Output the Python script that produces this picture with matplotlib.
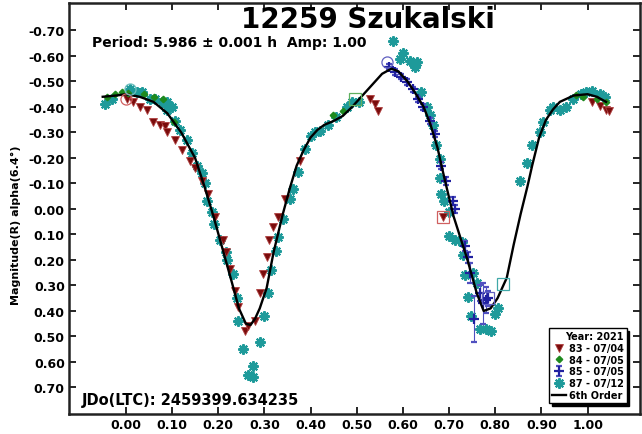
import numpy as np
import matplotlib
matplotlib.use("Agg")
import matplotlib.pyplot as plt

plt.rcParams['font.family'] = ['DejaVu Sans']
plt.rcParams['font.weight'] = 'bold'

# session 83 - 07/04
ph83 = [0.002, 0.015, 0.03, 0.045, 0.058, 0.074, 0.084, 0.089, 0.106, 0.121,
        0.139, 0.149, 0.164, 0.178, 0.193, 0.21, 0.218, 0.225, 0.236, 0.243,
        0.258, 0.265, 0.28, 0.29, 0.297, 0.305, 0.31, 0.318, 0.33, 0.345,
        0.377, 0.528, 0.539, 0.546, 0.686, 1.01, 1.026, 1.04, 1.047]
mag83 = [-0.43, -0.42, -0.40, -0.39, -0.34, -0.33, -0.325, -0.30, -0.27, -0.23,
         -0.19, -0.16, -0.11, -0.06, 0.03, 0.12, 0.17, 0.235, 0.32, 0.385,
         0.48, 0.46, 0.44, 0.33, 0.255, 0.19, 0.12, 0.07, 0.03, -0.04,
         -0.19, -0.43, -0.41, -0.385, 0.03, -0.42, -0.405, -0.39, -0.385]

# session 84 - 07/05
ph84 = [-0.04, -0.024, -0.009, 0.005, 0.04, 0.06, 0.08, 0.105, 0.448, 0.47,
        0.976, 0.99, 1.02, 1.04]
mag84 = [-0.44, -0.45, -0.46, -0.455, -0.45, -0.44, -0.43, -0.34, -0.37, -0.385,
         -0.445, -0.44, -0.43, -0.42]

# session 85 - 07/05
ph85 = [0.571, 0.582, 0.597, 0.608, 0.621, 0.632, 0.643, 0.658, 0.669, 0.683,
        0.694, 0.708, 0.712, 0.734, 0.74, 0.745, 0.753, 0.766, 0.773, 0.78, 0.784]
mag85 = [-0.557, -0.537, -0.518, -0.498, -0.47, -0.43, -0.40, -0.345, -0.294, -0.17,
         -0.11, -0.03, 0.0, 0.145, 0.19, 0.25, 0.43, 0.33, 0.37, 0.357, 0.35]
err85 = [0.01, 0.01, 0.01, 0.01, 0.01, 0.01, 0.01, 0.01, 0.01, 0.015,
         0.015, 0.015, 0.015, 0.02, 0.02, 0.04, 0.09, 0.03, 0.08, 0.05, 0.03]

# session 87 - 07/12
ph87 = [-0.045, -0.03, 0.009, 0.024, 0.035, 0.052, 0.063, 0.078, 0.089, 0.10,
        0.09, 0.106, 0.117, 0.132, 0.143, 0.154, 0.165, 0.171, 0.175, 0.186,
        0.19, 0.203, 0.218, 0.22, 0.232, 0.24, 0.243, 0.254, 0.265, 0.275,
        0.275, 0.29, 0.30, 0.308, 0.315, 0.326, 0.33, 0.34, 0.355, 0.362,
        0.373, 0.387, 0.40, 0.41, 0.42, 0.437, 0.455, 0.478, 0.49, 0.506,
        0.578, 0.593, 0.60, 0.615, 0.626, 0.63, 0.64, 0.652, 0.658, 0.665,
        0.672, 0.68, 0.68, 0.683, 0.69, 0.70, 0.70, 0.712, 0.727, 0.73,
        0.734, 0.751, 0.76, 0.74, 0.748, 0.766, 0.78, 0.79, 0.80, 0.805,
        0.853, 0.868, 0.88, 0.896, 0.903, 0.918, 0.925, 0.94, 0.954, 0.968,
        0.985, 0.997, 1.01, 1.026, 1.037]
mag87 = [-0.41, -0.43, -0.47, -0.46, -0.46, -0.43, -0.43, -0.42, -0.42, -0.40,
         -0.39, -0.345, -0.31, -0.27, -0.22, -0.17, -0.14, -0.10, -0.03, 0.01,
         0.06, 0.12, 0.17, 0.20, 0.255, 0.35, 0.44, 0.55, 0.65, 0.66,
         0.615, 0.52, 0.42, 0.33, 0.24, 0.165, 0.11, 0.04, -0.04, -0.08,
         -0.145, -0.235, -0.287, -0.30, -0.305, -0.33, -0.36, -0.40, -0.42, -0.42,
         -0.66, -0.59, -0.61, -0.58, -0.557, -0.575, -0.46, -0.40, -0.37, -0.33,
         -0.25, -0.196, -0.12, -0.06, -0.03, 0.01, 0.105, 0.12, 0.13, 0.18,
         0.26, 0.25, 0.29, 0.345, 0.42, 0.47, 0.47, 0.48, 0.41, 0.39,
         -0.11, -0.18, -0.25, -0.30, -0.34, -0.39, -0.40, -0.39, -0.40, -0.43,
         -0.45, -0.46, -0.463, -0.45, -0.44]

# 6th order fit
fit_ph = [-0.05, -0.02, 0.00, 0.03, 0.06, 0.09, 0.12, 0.15, 0.17, 0.19,
          0.21, 0.23, 0.245, 0.26, 0.27, 0.28, 0.29, 0.305, 0.32, 0.34,
          0.355, 0.37, 0.385, 0.40, 0.415, 0.43, 0.45, 0.47, 0.49, 0.51,
          0.535, 0.555, 0.575, 0.59, 0.61, 0.625, 0.645, 0.66, 0.675, 0.69,
          0.71, 0.74, 0.76, 0.775, 0.79, 0.805, 0.825, 0.84, 0.855, 0.87,
          0.88, 0.895, 0.91, 0.925, 0.94, 0.97, 1.00, 1.02, 1.04]
fit_mag = [-0.44, -0.445, -0.45, -0.44, -0.42, -0.375, -0.30, -0.20, -0.09, 0.03,
           0.16, 0.29, 0.39, 0.45, 0.455, 0.43, 0.39, 0.31, 0.17, 0.02,
           -0.08, -0.17, -0.23, -0.28, -0.31, -0.33, -0.345, -0.365, -0.40, -0.44,
           -0.49, -0.53, -0.55, -0.54, -0.50, -0.46, -0.40, -0.33, -0.24, -0.12,
           0.03, 0.20, 0.33, 0.40, 0.39, 0.35, 0.27, 0.14, 0.02, -0.09,
           -0.17, -0.28, -0.35, -0.39, -0.42, -0.445, -0.45, -0.44, -0.42]

# first-point markers of each session
open_circ_ph = [0.0, 0.009, 0.565]
open_circ_mag = [-0.43, -0.47, -0.575]
open_circ_col = ['#d06060', '#70c0c0', '#6060c0']
open_sq_ph = [0.496, 0.686, 0.784, 0.816]
open_sq_mag = [-0.43, 0.03, 0.35, 0.295]
open_sq_col = ['#60b060', '#d06060', '#6060c0', '#40a8a8']

xticks = [0.0, 0.1, 0.2, 0.3, 0.4, 0.5, 0.6, 0.7, 0.8, 0.9, 1.0]
yticks = [-0.7, -0.6, -0.5, -0.4, -0.3, -0.2, -0.1, 0.0, 0.1, 0.2, 0.3, 0.4, 0.5, 0.6, 0.7]

red = '#7a0c0c'
green = '#1e8a1e'
blue = '#2020a0'
teal = '#1e9a9a'

fig = plt.figure(figsize=(6.42, 4.35), dpi=100)
ax = fig.add_axes([0.1075, 0.046, 0.889, 0.945])

ax.plot(ph87, mag87, ls='none', marker=(8, 2, 0), ms=7.5, mew=1.5, color=teal,
        label='87 - 07/12', zorder=2)
ax.plot(ph83, mag83, ls='none', marker='v', ms=5.5, color=red, mec='#b04040',
        mew=0.6, label='83 - 07/04', zorder=3)
ax.plot(ph84, mag84, ls='none', marker='D', ms=3.3, color=green, mec=green,
        label='84 - 07/05', zorder=3)
ax.errorbar(ph85, mag85, yerr=err85, fmt='+', ms=7, mew=1.6, color=blue,
            ecolor='#5050c0', elinewidth=0.8, capsize=2, label='85 - 07/05', zorder=4)
ax.plot(fit_ph, fit_mag, color='black', lw=1.7, label='6th Order', zorder=5)

for p, m, c in zip(open_circ_ph, open_circ_mag, open_circ_col):
    ax.plot(p, m, ls='none', marker='o', ms=8, mfc='none', mec=c, mew=0.9, zorder=6)
for p, m, c in zip(open_sq_ph, open_sq_mag, open_sq_col):
    ax.plot(p, m, ls='none', marker='s', ms=8, mfc='none', mec=c, mew=0.9, zorder=6)

ax.set_xlim(-0.123, 1.113)
ax.set_ylim(0.804, -0.808)
ax.set_xticks(xticks)
ax.set_xticklabels(['%.2f' % v for v in xticks])
ax.set_yticks(yticks)
ax.set_yticklabels(['%.2f' % v for v in yticks])
ax.tick_params(direction='in', length=5, width=1.2, labelsize=9, pad=3,
               top=True, right=True)
for lab in ax.get_xticklabels() + ax.get_yticklabels():
    lab.set_fontweight('bold')
for s in ax.spines.values():
    s.set_linewidth(1.8)
    s.set_color('#222222')

fig.text(0.025, 0.483, 'Magnitude(R) alpha(6.4\u00b0)', rotation=90,
         ha='center', va='center', fontsize=8, fontweight='bold')
fig.text(0.573, 0.955, '12259 Szukalski', ha='center', va='center',
         fontsize=20, fontweight='bold')
fig.text(0.143, 0.892, 'Period: 5.986 \u00b1 0.001 h  Amp: 1.00', ha='left',
         va='baseline', fontsize=10, fontweight='bold')
fig.text(0.128, 0.069, 'JDo(LTC): 2459399.634235', ha='left', va='baseline',
         fontsize=10.5, fontweight='bold')

handles, labels = ax.get_legend_handles_labels()
order = ['83 - 07/04', '84 - 07/05', '85 - 07/05', '87 - 07/12', '6th Order']
hl = dict(zip(labels, handles))
leg = ax.legend([hl[k] for k in order], order, title='Year: 2021',
                loc='lower right', bbox_to_anchor=(0.977, 0.027), borderaxespad=0,
                fontsize=7, title_fontsize=7, labelspacing=0.18,
                handlelength=1.4, handletextpad=0.3, borderpad=0.3,
                fancybox=False, edgecolor='black', framealpha=1,
                shadow={'color': 'black', 'alpha': 1}, alignment='right')
leg.get_frame().set_linewidth(1.0)
leg.get_title().set_fontweight('bold')
for t in leg.get_texts():
    t.set_fontweight('bold')

fig.savefig('out.png', dpi=100)
